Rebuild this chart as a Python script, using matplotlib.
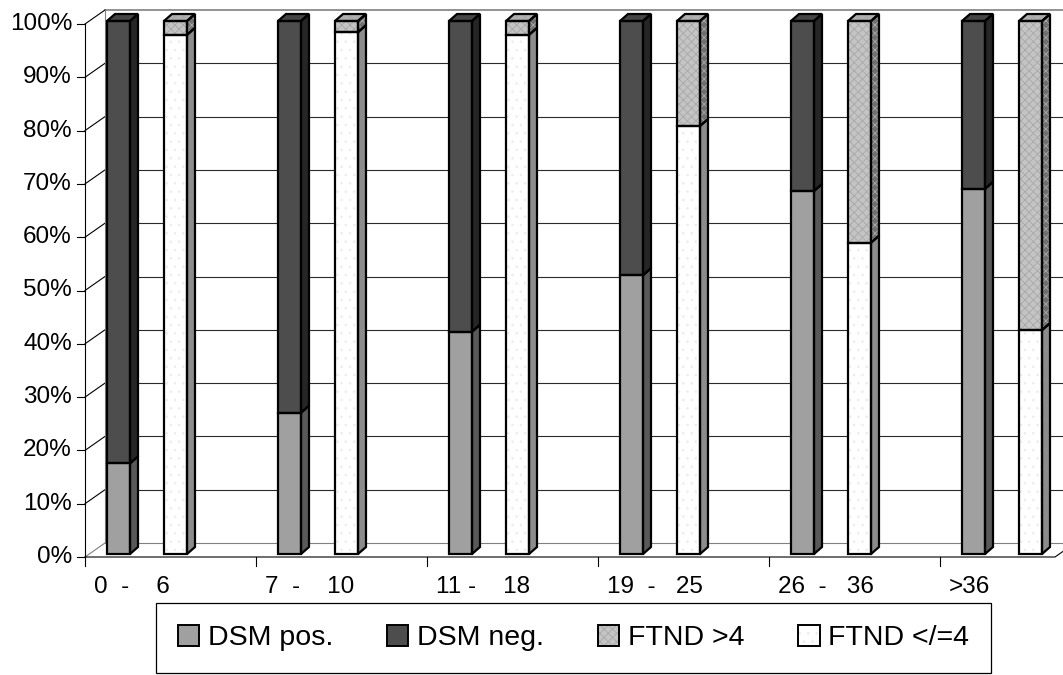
import matplotlib

matplotlib.use("Agg")
import matplotlib.pyplot as plt
import numpy as np
from matplotlib.legend_handler import HandlerTuple
from matplotlib.patches import Polygon, Rectangle

# --------------------------------------------------------------------------- #
# Data (percent of each cigarette-count group)
# --------------------------------------------------------------------------- #
groups = ["0  -    6", "7  -    10", "11 -    18", "19  -   25", "26  -   36", ">36"]
dsm_pos = [17.0, 26.5, 41.7, 52.3, 68.1, 68.5]
dsm_neg = [100 - v for v in dsm_pos]
ftnd_le4 = [97.4, 97.9, 97.4, 80.3, 58.4, 42.0]
ftnd_gt4 = [100 - v for v in ftnd_le4]
y_ticks = np.arange(0, 101, 10)

# --------------------------------------------------------------------------- #
# Styling
# --------------------------------------------------------------------------- #
plt.rcParams["font.family"] = ["Liberation Sans", "DejaVu Sans"]

W, H = 1063, 675
fig = plt.figure(figsize=(W / 100, H / 100), dpi=100)
# front plane of the pseudo-3D plot: x 85..1111 px, y 557..24 px
ax = fig.add_axes([85 / W, (H - 557) / H, 1026 / W, 533 / H])
ax.set_xlim(0, len(groups))
ax.set_ylim(0, 100)
ax.axis("off")

SX = 1026 / len(groups)  # px per category
SY = 533 / 100.0         # px per percent


def px(dx, dy):
    """pixel offset -> data offset"""
    return dx / SX, dy / SY


WALL_DX, WALL_DY = px(20, 14)  # back wall depth
BAR_DX, BAR_DY = px(8, 7)      # bar depth
BAR_LIFT = px(0, 3)[1]
BAR_W = px(23, 0)[0]
OFF_DSM = px(22, 0)[0]
OFF_FTND = px(79, 0)[0]
LW = 1.6

# back wall, gridlines and the connectors to the front axis
for t in y_ticks:
    col = "#808080" if t in (0, 100) else "#2a2a2a"
    ax.plot([WALL_DX, len(groups) + WALL_DX], [t + WALL_DY] * 2, color=col,
            lw=1.2 if t == 100 else 0.8, clip_on=False, zorder=1)
    ax.plot([0, WALL_DX], [t, t + WALL_DY], color="#808080" if t == 0 else "black",
            lw=0.8, clip_on=False, zorder=1)
    ax.plot([-px(8, 0)[0], 0], [t, t], color="black", lw=0.8, clip_on=False)
    ax.text(-px(13, 0)[0], t, f"{t}%", ha="right", va="center", fontsize=17.5)
ax.plot([WALL_DX, WALL_DX], [WALL_DY, 100 + WALL_DY], color="#808080", lw=0.8,
        clip_on=False, zorder=1)

# front axes lines
x_end = px(1055 - 85, 0)[0]
ax.plot([0, 0], [0, 100], color="black", lw=0.8, clip_on=False, zorder=2)
ax.plot([0, x_end, x_end + WALL_DX], [0, 0, WALL_DY], color="black", lw=0.8,
        clip_on=False, zorder=2)
for i, lab in enumerate(groups):
    ax.plot([i, i], [0, -px(0, 9)[1]], color="black", lw=0.8, clip_on=False)
    ax.text(i + px(9, 0)[0], -px(0, 30)[1], lab, ha="left", va="center", fontsize=17.5)


def box(x, y0, y1, face, side, top_col=None, hatch=None, hcol=None, side_hatch=True):
    """one stacked segment drawn as a little box (front, side, optional top)"""
    y0 += BAR_LIFT
    y1 += BAR_LIFT
    front = [(x, y0), (x + BAR_W, y0), (x + BAR_W, y1), (x, y1)]
    sidep = [(x + BAR_W, y0), (x + BAR_W + BAR_DX, y0 + BAR_DY),
             (x + BAR_W + BAR_DX, y1 + BAR_DY), (x + BAR_W, y1)]
    faces = [(front, face, hatch), (sidep, side, hatch if side_hatch else None)]
    if top_col is not None:
        topp = [(x, y1), (x + BAR_DX, y1 + BAR_DY),
                (x + BAR_W + BAR_DX, y1 + BAR_DY), (x + BAR_W, y1)]
        faces.append((topp, top_col, hatch))
    for verts, col, h in faces:
        ax.add_patch(Polygon(verts, closed=True, facecolor=col,
                             edgecolor=hcol if h else col, hatch=h,
                             lw=0, zorder=3, clip_on=False))
        ax.add_patch(Polygon(verts, closed=True, fill=False, edgecolor="black",
                             lw=LW, joinstyle="miter", zorder=4, clip_on=False))


plt.rcParams["hatch.linewidth"] = 0.6
for i in range(len(groups)):
    xd = i + OFF_DSM
    box(xd, 0, dsm_pos[i], "#a0a0a0", "#595959")
    box(xd, dsm_pos[i], 100, "#4d4d4d", "#262626", top_col="#454545")
    xf = i + OFF_FTND
    box(xf, 0, ftnd_le4[i], "white", "#8c8c8c", hatch="..", hcol="#ececec",
        side_hatch=False)
    box(xf, ftnd_le4[i], 100, "#c4c4c4", "#707070", top_col="#b0b0b0",
        hatch="xxxx", hcol="#a8a8a8")

# legend
def lg(face, hatch=None, hcol=None):
    fill = Rectangle((0, 0), 1, 1, facecolor=face, edgecolor=hcol if hatch else face,
                     hatch=hatch, lw=0)
    edge = Rectangle((0, 0), 1, 1, fill=False, edgecolor="black", lw=1.4)
    return (fill, edge)


handles = [lg("#a0a0a0"), lg("#4d4d4d"), lg("#c4c4c4", "xxxx", "#a8a8a8"),
           lg("white", "..", "#ececec")]
labels = ["DSM pos.", "DSM neg.", "FTND >4", "FTND </=4"]
leg = fig.legend(handles, labels, loc="center", ncol=4,
                 bbox_to_anchor=(573.5 / W, 1 - 638 / H),
                 handler_map={tuple: HandlerTuple(ndivide=1)},
                 fontsize=20.5, handlelength=0.75, handleheight=0.75,
                 handletextpad=0.3, columnspacing=1.9, borderpad=0.75,
                 fancybox=False, framealpha=1)
leg.get_frame().set_edgecolor("black")
leg.get_frame().set_linewidth(0.9)

fig.savefig("out.png", dpi=100)
plt.close(fig)
